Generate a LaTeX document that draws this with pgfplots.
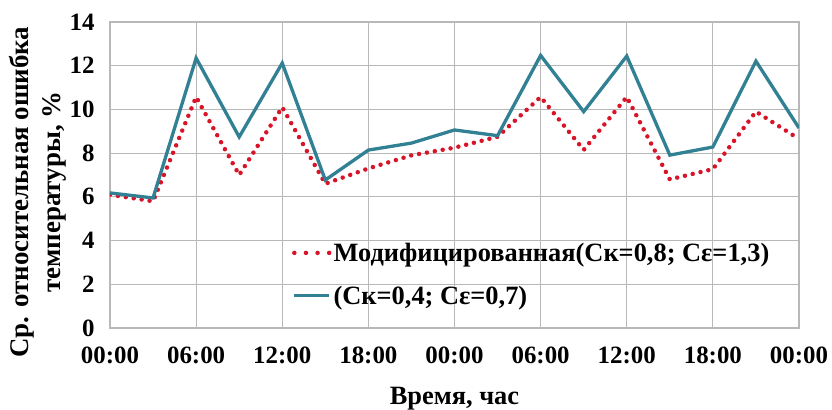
\documentclass[border=0pt]{standalone}
\usepackage{pgfplots}
\pgfplotsset{compat=1.18}
\usepackage{fontspec}
\setmainfont{Liberation Serif}
\definecolor{tealc}{RGB}{49,128,148}
\definecolor{redc}{RGB}{215,20,40}
\begin{document}
\begin{tikzpicture}
\begin{axis}[
  at={(0,0)}, anchor=south west,
  scale only axis, width=689bp, height=306bp,
  xmin=0, xmax=16, ymin=0, ymax=14,
  xtick={0,2,...,16},
  xticklabels={00:00,06:00,12:00,18:00,00:00,06:00,12:00,18:00,00:00},
  ytick={0,2,...,14},
  major tick length=0pt,
  grid=major,
  major grid style={draw=black!28, line width=1.1bp},
  axis line style={draw=black!28, line width=1.1bp},
  /pgf/number format/assume math mode=true,
  ticklabel style={font=\fontsize{25}{28}\selectfont\bfseries},
  xticklabel style={yshift=-15bp},
  yticklabel style={xshift=-12bp},
  xlabel={Время, час},
  xlabel style={font=\fontsize{26.5}{30}\selectfont\bfseries, at={(axis description cs:0.5,-0.232)}, anchor=center},
  ylabel={Ср. относительная ошибка\\температуры, \%},
  ylabel style={font=\fontsize{27}{32}\selectfont\bfseries, align=center, at={(axis description cs:-0.1045,0.444)}, anchor=center},
  legend style={draw=none, fill=none, at={(axis description cs:0.264,0.285)}, anchor=north west,
    font=\fontsize{26.5}{30}\selectfont\bfseries, row sep=19bp, inner sep=0pt},
  legend cell align=left,
]
\addplot[redc, line width=4.5bp, line cap=round, dash pattern=on 0bp off 8bp,
  legend image code/.code={\draw[redc, line width=4.5bp, line cap=round, dash pattern=on 0bp off 11.6bp] (0bp,0bp) -- (35bp,0bp);}] coordinates {
(0,6.1) (1,5.8) (2,10.57) (3,7.0) (4,10.1) (5,6.6) (6,7.3) (7,7.9) (8,8.25)
(9,8.75) (10,10.57) (11,8.15) (12,10.57) (13,6.8) (14,7.27) (15,9.9) (16,8.65)};
\addlegendentry{Модифицированная(Ск=0,8; Сε=1,3)}
\addplot[tealc, line width=3.3bp,
  legend image code/.code={\draw[tealc, line width=3.3bp] (0bp,0bp) -- (35bp,0bp);}] coordinates {
(0,6.18) (1,5.95) (2,12.35) (3,8.74) (4,12.12) (5,6.77) (6,8.14) (7,8.46) (8,9.06)
(9,8.8) (10,12.47) (11,9.9) (12,12.44) (13,7.91) (14,8.28) (15,12.21) (16,9.15)};
\addlegendentry{(Ск=0,4; Сε=0,7)}
\end{axis}
\pgfresetboundingbox
\path (-110bp,-82bp) rectangle (722bp,328bp);
\end{tikzpicture}
\end{document}
